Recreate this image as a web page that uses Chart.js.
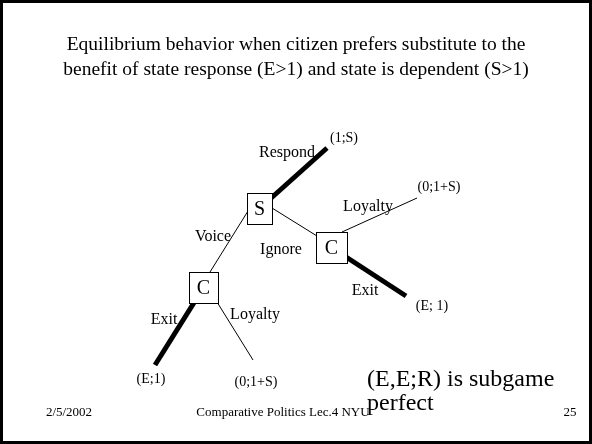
<!DOCTYPE html>
<html>
<head>
<meta charset="utf-8">
<script src="https://cdn.jsdelivr.net/npm/chart.js@4.4.1/dist/chart.umd.min.js"></script>
<style>
  html, body { margin: 0; padding: 0; background: #fff; }
  #tree { display: block; }
</style>
</head>
<body>
<canvas id="tree" width="592" height="444"></canvas>
<script>
// slide text
const titleLines = [
  "Equilibrium behavior when citizen prefers substitute to the",
  "benefit of state response (E>1) and state is dependent (S>1)"
];
const footerLeft = "2/5/2002";
const footerMid = "Comparative Politics Lec.4 NYU";
const footerRight = "25";
const noteLines = ["(E,E;R) is subgame", "perfect"];

// decision nodes (slide units, y grows downward)
const nodeNames = ["S", "C", "C"];
const nodeX = [259.5, 331.5, 203.5];
const nodeY = [208.5, 247.5, 287.5];
const nodeW = [25, 31, 29];

// branches of the tree
const edgeNames = ["Respond", "Ignore", "Voice", "Loyalty", "Exit", "Exit", "Loyalty"];
const edgeX1 = [259.5, 272, 248, 342, 331.5, 203.5, 217];
const edgeY1 = [208.5, 208, 211, 232, 247.5, 287.5, 302];
const edgeX2 = [327, 317, 210, 417, 406, 155, 253];
const edgeY2 = [148, 236, 272, 198, 296, 365, 360];
const edgeChosen = [true, false, false, false, true, true, false];

// where the action names sit
const edgeLabelX = [287, 281, 213, 368, 365, 164, 255];
const edgeLabelY = [153, 250, 237, 207, 291, 320, 315];

// payoffs at the terminal nodes
const payoffs = ["(1;S)", "(0;1+S)", "(E; 1)", "(E;1)", "(0;1+S)"];
const payoffX = [344, 439, 432, 151, 256];
const payoffY = [138, 187, 306, 379, 382];

const serif = "'Liberation Serif', 'Times New Roman', serif";

const edgeSets = edgeNames.map((name, i) => ({
  label: name,
  data: [{ x: edgeX1[i], y: edgeY1[i] }, { x: edgeX2[i], y: edgeY2[i] }],
  showLine: true,
  borderColor: "#000",
  borderWidth: edgeChosen[i] ? 5 : 1,
  borderCapStyle: "butt",
  pointRadius: 0,
  fill: false,
}));

// draws the frame, boxes and all text on top of the branches
const slidePlugin = {
  id: "slide",
  afterDatasetsDraw(chart) {
    const ctx = chart.ctx;
    const xs = chart.scales.x;
    const ys = chart.scales.y;
    const px = (v) => xs.getPixelForValue(v);
    const py = (v) => ys.getPixelForValue(v);

    ctx.save();
    ctx.fillStyle = "#000";
    ctx.strokeStyle = "#000";

    // slide frame
    ctx.lineWidth = 3;
    ctx.strokeRect(1.5, 1.5, chart.width - 3, chart.height - 3);

    ctx.textAlign = "center";
    ctx.textBaseline = "middle";

    // title
    ctx.font = "19.5px " + serif;
    titleLines.forEach((t, i) => ctx.fillText(t, px(296), py(45 + i * 25)));

    // decision node boxes
    nodeNames.forEach((n, i) => {
      const w = nodeW[i];
      const h = 31;
      const x = px(nodeX[i] - w / 2);
      const y = py(nodeY[i] - h / 2);
      ctx.fillStyle = "#fff";
      ctx.fillRect(x, y, w, h);
      ctx.lineWidth = 1;
      ctx.strokeRect(Math.round(x) + 0.5, Math.round(y) + 0.5, w, h);
      ctx.fillStyle = "#000";
      ctx.font = "20px " + serif;
      ctx.fillText(n, px(nodeX[i]), py(nodeY[i] + 1));
    });

    // action names
    ctx.font = "16px " + serif;
    edgeNames.forEach((n, i) => ctx.fillText(n, px(edgeLabelX[i]), py(edgeLabelY[i])));

    // payoffs
    ctx.font = "14px " + serif;
    payoffs.forEach((p, i) => ctx.fillText(p, px(payoffX[i]), py(payoffY[i])));

    // footer
    ctx.font = "13px " + serif;
    ctx.fillText(footerLeft, px(69), py(413));
    ctx.fillText(footerMid, px(283), py(413));
    ctx.fillText(footerRight, px(570), py(413));

    // note
    ctx.textAlign = "left";
    ctx.textBaseline = "alphabetic";
    ctx.font = "24px " + serif;
    noteLines.forEach((t, i) => ctx.fillText(t, px(367), py(386 + i * 24)));

    ctx.restore();
  },
};

new Chart(document.getElementById("tree"), {
  type: "scatter",
  data: { datasets: edgeSets },
  options: {
    responsive: false,
    animation: false,
    layout: { padding: 0 },
    scales: {
      x: { type: "linear", min: 0, max: 592, display: false },
      y: { type: "linear", min: 0, max: 444, reverse: true, display: false },
    },
    plugins: {
      legend: { display: false },
      tooltip: { enabled: false },
    },
  },
  plugins: [slidePlugin],
});
</script>
</body>
</html>
